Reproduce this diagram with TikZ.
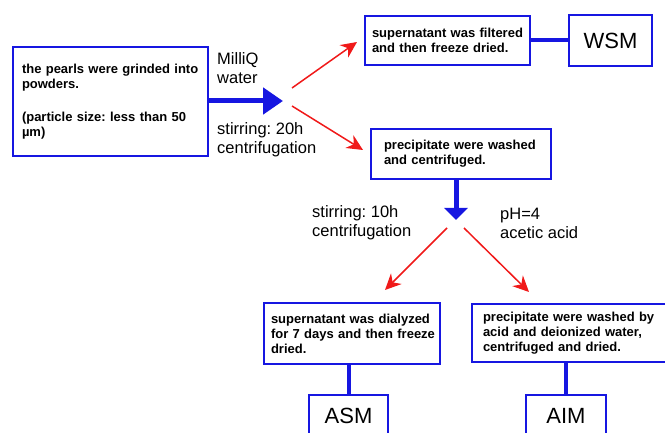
\documentclass[tikz,border=0pt]{standalone}
\usepackage{fontspec}
\setmainfont{Liberation Sans}
\frenchspacing
\hyphenpenalty=10000
\hbadness=10000
\hfuzz=20pt
\usetikzlibrary{positioning,arrows.meta}
\definecolor{boxblue}{RGB}{22,22,225}
\definecolor{arrred}{RGB}{240,25,25}
\tikzset{
  stepbox/.style={draw=boxblue, line width=2pt, anchor=north west, align=left,
    font=\bfseries\fontsize{13}{15}\selectfont, inner ysep=0pt},
  namebox/.style={draw=boxblue, line width=2pt, anchor=north west,
    font=\fontsize{22}{24}\selectfont, inner sep=0pt},
  note/.style={anchor=west, align=left, inner sep=0pt,
    font=\fontsize{16.5}{19}\selectfont},
  bluearrow/.style={draw=boxblue, line width=5pt, -{Triangle[length=#1]}},
  redarrow/.style={draw=arrred, line width=1.5pt, -{Stealth[length=16pt,width=15pt]}},
  link/.style={draw=boxblue, line width=4pt}
}
\begin{document}
\begin{tikzpicture}[x=1pt, y=-1pt]
    \useasboundingbox (0,0) rectangle (665,433);
    \clip (0,0) rectangle (665,433);
    % process boxes
    \node [stepbox, inner xsep=9pt, text width=177pt, minimum height=109pt] (pearl) at (12,46)
      {the~pearls~were~grinded~into\\powders.\\[18pt](particle~size:~less~than~50\\µm)};
    \node [stepbox, inner xsep=7pt, text width=151pt, minimum height=49pt] (filt) at (364,15)
      {supernatant~was~filtered\\and~then~freeze~dried.};
    \node [namebox, minimum width=83pt, minimum height=51pt] (WSM) at (568,14) {WSM};
    \node [stepbox, inner xsep=13pt, text width=154pt, minimum height=50pt] (prec) at (370,128)
      {precipitate~were~washed\\and~centrifuged.};
    \node [stepbox, inner xsep=7pt, text width=162pt, minimum height=61pt] (dial) at (263,302)
      {supernatant~was~dialyzed\\for~7~days~and~then~freeze\\dried.};
    \node [stepbox, inner xsep=11pt, text width=185pt, minimum height=58pt] (acid) at (471,303)
      {precipitate~were~washed~by\\acid~and~deionized~water,\\centrifuged~and~dried.};
    \node [namebox, minimum width=79pt, minimum height=42pt] (ASM) at (308,394) {ASM};
    \node [namebox, minimum width=80pt, minimum height=42pt] (AIM) at (525,394) {AIM};
    % conditions
    \node [note] (water) at (217,68.5) {MilliQ\\water};
    \node [note] (stir1) at (217,139.5) {stirring: 20h\\centrifugation};
    \node [note] (stir2) at (312,223) {stirring: 10h\\centrifugation};
    \node [note] (ph) at (500,223) {pH=4\\acetic acid};
    % split points
    \coordinate (split1) at (283,101);
    \coordinate (split2) at (456,220);
    \coordinate (up1) at (292,88);
    \coordinate (dn1) at (292,106);
    \coordinate (up2) at (447,228);
    \coordinate (dn2) at (464,228);
    \coordinate (filtin) at (357,42);
    \coordinate (precin) at (363,150);
    \coordinate (dialin) at (385,290);
    \coordinate (acidin) at (529,292);

    \draw [bluearrow={20pt 0 0,width=26pt}] (pearl.east |- split1) -- (split1);
    \draw [redarrow] (up1) -- (filtin);
    \draw [redarrow] (dn1) -- (precin);
    \draw [link] (filt) -- (WSM);
    \draw [bluearrow={12pt 0 0,width=23pt}] (prec.south -| split2) -- (split2);
    \draw [redarrow] (up2) -- (dialin);
    \draw [redarrow] (dn2) -- (acidin);
    \draw [link] (ASM.north |- dial.south) -- (ASM.north);
    \draw [link] (AIM.north |- acid.south) -- (AIM.north);
\end{tikzpicture}
\end{document}
